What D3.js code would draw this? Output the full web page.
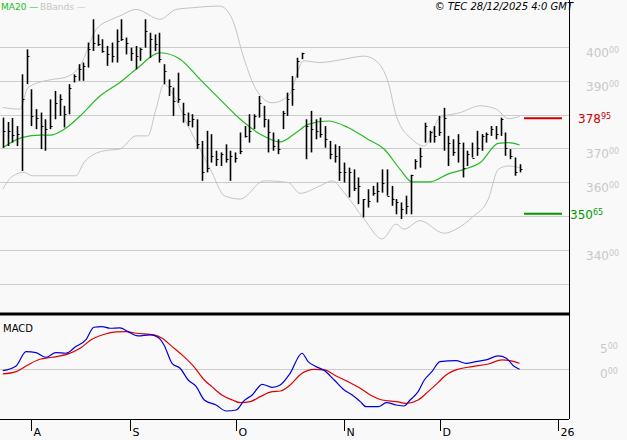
<!DOCTYPE html>
<html>
<head>
<meta charset="utf-8">
<script src="https://cdn.jsdelivr.net/npm/d3@7"></script>
<style>
  body { margin: 0; background: #f9f9f9; }
  svg { display: block; font-family: "DejaVu Sans", Arial, sans-serif; }
</style>
</head>
<body>
<svg id="chart" width="627" height="440"></svg>
<script>
// daily bars, high / low / close
var highs = [379.1,377.8,379,376.6,391.9,399.3,387.5,381.6,380.6,378.6,384.5,387,386,382.6,389,391.9,394.9,395.4,401.3,408.2,403.7,402.3,400.3,401.3,405.2,408.2,402.8,399.8,400.3,399.8,408.2,404.2,403.7,404.2,394.9,390.4,388,392.4,383.5,380.6,380.1,378.6,372.2,375.2,374.2,369.3,368.8,371.2,369.3,368.8,374.7,376.6,380.1,380.1,385.5,382.6,378.6,374.7,372.7,381.1,386.5,391.4,396.8,398.3,378.6,381.1,378.6,379.1,376.6,372.2,371.2,370.7,365.8,364.3,363.8,361.4,355,357.9,358.9,359.9,363.8,363.8,358.9,355,354,356,362.2,366.8,370.2,377.6,375.2,376.6,379.6,382,373.7,372.7,374.2,371.7,369.3,371.7,375.2,374.2,374.7,376.6,376.6,379.1,374.7,369.8,367.3,365.3];
var lows = [370.2,370.7,371.7,370.7,363.3,389,376.6,375.7,369.8,369.3,375.7,378.6,379.6,376.2,380.1,389.5,390,390,393.9,398.8,400.3,398.3,394.4,395.4,395.4,401.8,397.8,395.9,393.4,395.9,399.8,396.8,398.8,395.4,389,385.5,379.6,383.5,377.6,376.6,376.2,369.8,360.4,362.9,365.8,364.8,364.8,365.8,360.4,365.8,368.3,373.2,371.7,375.7,379.1,376.2,368.8,369.3,368.3,375.7,379.6,382.6,390.9,396.4,366.8,368.8,372.7,373.2,370.2,366.8,365.8,360.4,359.9,355.5,357.4,353.5,349.6,352.5,356,354,356.9,356,353,350.5,349.1,350.5,350.5,363.8,364.3,371.7,371.7,371.7,373.7,369.3,364.8,367.8,365.8,361.4,364.8,367.3,367.8,369.3,371.7,373.7,372.7,373.7,367.8,366.8,361.9,362.9];
var closes = [375,375.2,374,374.2,384.5,397.3,379.6,379,376.6,375.7,376.6,383.5,384.5,380.1,388,391.4,393.4,394.4,399.3,401.3,400.8,398.8,397.8,397.3,401.8,402.3,401.3,398.3,397.3,399.3,404.7,402.3,400.8,396.4,392.9,388.5,384,384.5,380.1,378.1,378.6,371.2,362.9,364.3,367.8,366.8,368.3,366.8,367.8,367.3,369.3,373.7,375.2,379.6,383.5,378.6,374.7,370.7,369.8,380.6,384.5,387.5,395.9,398.3,376.6,375.7,375.2,374.2,372.7,368.3,367.8,362.9,362.9,362.9,358.4,358.9,355,354.5,356.9,357.4,359.9,356,355,354,352,353,362,366.3,367.8,376.6,374.7,373.7,374.7,379.1,371.7,368.8,371.7,364.3,368.3,367.3,370.2,373.7,374.2,375.7,374.2,378.6,370.2,367.8,362.9,363.8];

// indicator lines: [bar index, value]
var ma20 = [[0,370.2],[4,373.2],[8,373.9],[10,373.9],[13,375.7],[16.3,379.6],[20.5,385.5],[24.7,389.5],[28.1,393.4],[33.2,398.3],[37.4,396.4],[41.6,390.4],[45.8,384.5],[50.1,378.6],[54.3,374.2],[58.5,371.9],[61.9,374.7],[64.4,377.1],[68.6,378.1],[72.8,376.2],[77,372.7],[80.4,369.8],[83.8,363.8],[86.3,360.1],[90.1,360.1],[93.9,362.4],[97.3,363.8],[100.7,365.8],[104.5,371.5],[106.6,371.7],[109,371]];
var bbUpper = [[0,382.1],[3.6,381.6],[5.3,388],[10.4,390.4],[12.9,390.9],[16.3,394.4],[19.7,405.2],[23,408.2],[24.7,409.2],[28.1,411.1],[33.2,408.2],[36.5,411.1],[39.9,411.6],[45.8,412.1],[48.4,408.2],[50.9,396.4],[53.4,387.5],[56.8,383.5],[60.2,385.5],[63.5,395.9],[66.9,395.4],[72,396.4],[76.2,397.3],[78.7,395.9],[81.3,389.5],[83,379.6],[86.3,372.7],[88.9,370.7],[92.2,379.1],[96.5,380.6],[100.7,382.6],[104.1,381.6],[106.6,378.8],[109,379.4]];
var bbLower = [[0,357.9],[2,361.7],[4.5,362.9],[6.2,361.9],[15.4,361.9],[17.1,365.8],[21.4,369.3],[24.7,369.8],[28.1,373.7],[30.6,373.7],[32.3,381.6],[34,389],[36.5,384.5],[39.1,376.6],[41.6,369.8],[44.1,362.9],[46.7,356],[50.1,355],[55.1,360.4],[60.2,359.9],[62.7,356.7],[66.9,358.9],[69.5,360.4],[72,356.9],[76.2,349.1],[80,343.2],[83,347.6],[84.6,346.1],[88,348.6],[93.1,344.9],[95.6,346.1],[99,349.6],[102.4,355],[104.5,363.8],[106.6,364.8],[109,364.3]];
var macdLine = [[0,-0.26],[2.8,0.66],[4.9,3.49],[7,3.29],[9.1,2.37],[11.2,3.29],[13.3,3.16],[15.4,4.47],[17.6,5.92],[19.2,8.29],[20.9,8.42],[22.6,8.09],[24.7,8.16],[26.4,7.43],[28.5,6.58],[31.1,6.78],[32.7,6.32],[34,4.8],[35.7,1.18],[37.4,0.2],[39.1,-2.11],[40.8,-3.42],[42.5,-6.05],[45,-7.04],[47.1,-8.22],[49.2,-8.03],[50.9,-6.18],[52.6,-5.07],[54.7,-2.96],[56.8,-3.55],[58.5,-3.09],[60.6,-0.79],[63.1,3.16],[64.4,1.51],[66.1,0.53],[67.8,-0.26],[69.9,-2.11],[72,-4.08],[73.7,-5.07],[75.4,-6.38],[76.6,-7.37],[79.2,-7.37],[80.9,-6.58],[83,-7.04],[84.6,-7.24],[85.9,-6.05],[87.6,-4.41],[88.9,-2.11],[90.5,-0.46],[92.2,1.51],[95.6,1.71],[97.7,1.18],[99.8,1.51],[101.9,1.84],[104.5,2.63],[106.2,2.17],[107.9,0.53],[109,0]];
var signalLine = [[0,-0.92],[2.8,-0.46],[5.3,0.86],[7.8,1.97],[10.4,2.37],[13.8,3.03],[16.3,4.14],[18.8,5.92],[21.4,6.91],[23.9,7.37],[26,7.43],[28.1,7.11],[31.9,6.78],[33.6,6.12],[35.7,4.47],[38.2,2.5],[40.3,0.53],[42.5,-2.11],[44.1,-3.42],[46.2,-5.07],[48.4,-6.05],[50.1,-6.58],[52.2,-6.38],[54.3,-5.39],[56.8,-4.41],[58.5,-4.28],[60.6,-3.09],[63.1,-0.79],[65.7,0],[67.8,-0.13],[70.3,-1.32],[72.8,-2.43],[75.4,-3.75],[77.5,-5.07],[80,-6.05],[83,-6.38],[85.1,-6.71],[87.6,-6.05],[89.7,-4.41],[91.8,-2.63],[93.5,-1.12],[96,0],[99,0.53],[102.4,1.05],[105.3,1.84],[107.9,1.51],[109,1.18]];

var priceTicks = [330,340,350,360,370,380,390,400];
var priceLabels = [340,360,370,390,400];   // 350 and 380 sit under the support/resistance tags
var macdTicks = [0,5];
var monthTicks = [[5.95,"A"],[26.8,"S"],[49.2,"O"],[72,"N"],[92.2,"D"],[117,"26"]];
var resistance = 378.95, support = 350.65;

var svg = d3.select("#chart");
var plotRight = 569, priceBottom = 314, macdTop = 314, macdBottom = 419;

var x = d3.scaleLinear().domain([0, 109]).range([2.8, 519.6]);
var y = d3.scaleLinear().domain([321, 413.9]).range([priceBottom, 0]);
var ym = d3.scaleLinear().domain([-9.8, 10.9]).range([macdBottom, macdTop]);

function splitLabel(g, big, small, color, xx, yy) {
    var t = g.append("text").attr("x", xx).attr("y", yy).attr("fill", color)
        .style("font-size", "12px");
    t.append("tspan").text(big);
    t.append("tspan").attr("dy", -4).style("font-size", "8px").text(small);
}

// price grid + labels
priceTicks.forEach(function(v) {
    svg.append("line").attr("x1", 0).attr("x2", plotRight)
        .attr("y1", Math.round(y(v)) + 0.5).attr("y2", Math.round(y(v)) + 0.5)
        .attr("stroke", "#cccccc");
});
priceLabels.forEach(function(v) {
    splitLabel(svg, String(v), "00", "#c8c8c8", 586, y(v) + 10);
});

// bollinger + ma
var line = d3.line().x(function(d) { return x(d[0]); }).y(function(d) { return y(d[1]); })
    .curve(d3.curveMonotoneX);
svg.append("path").attr("d", line(bbUpper)).attr("fill", "none").attr("stroke", "#c4c4c4");
svg.append("path").attr("d", line(bbLower)).attr("fill", "none").attr("stroke", "#c4c4c4");
svg.append("path").attr("d", line(ma20)).attr("fill", "none").attr("stroke", "#22bb22").attr("stroke-width", 1.2);

// bars
var bars = svg.append("g");
closes.forEach(function(c, i) {
    var bx = Math.round(x(i)) + 0.5;
    bars.append("line").attr("x1", bx).attr("x2", bx)
        .attr("y1", y(highs[i])).attr("y2", y(lows[i]))
        .attr("stroke", "#000").attr("stroke-width", 1.6);
    bars.append("line").attr("x1", bx).attr("x2", bx + 2)
        .attr("y1", Math.round(y(c)) + 0.5).attr("y2", Math.round(y(c)) + 0.5)
        .attr("stroke", "#000");
});

// support / resistance
svg.append("line").attr("x1", 524).attr("x2", 562).attr("y1", y(resistance)).attr("y2", y(resistance))
    .attr("stroke", "#cc0000").attr("stroke-width", 2);
svg.append("line").attr("x1", 524).attr("x2", 562).attr("y1", y(support)).attr("y2", y(support))
    .attr("stroke", "#009900").attr("stroke-width", 2);
splitLabel(svg, "378", "95", "#cc0000", 578, y(resistance) + 5);
splitLabel(svg, "350", "65", "#009900", 570, y(support) + 5);

// macd panel
svg.append("line").attr("x1", 0).attr("x2", plotRight)
    .attr("y1", Math.round(ym(0)) + 0.5).attr("y2", Math.round(ym(0)) + 0.5).attr("stroke", "#cccccc");
macdTicks.forEach(function(v) {
    splitLabel(svg, String(v), "00", "#c8c8c8", 600, ym(v) + 9);
});
var mline = d3.line().x(function(d) { return x(d[0]); }).y(function(d) { return ym(d[1]); })
    .curve(d3.curveMonotoneX);
svg.append("path").attr("d", mline(signalLine)).attr("fill", "none").attr("stroke", "#dd0000").attr("stroke-width", 1.2);
svg.append("path").attr("d", mline(macdLine)).attr("fill", "none").attr("stroke", "#0000dd").attr("stroke-width", 1.2);
svg.append("text").attr("x", 3).attr("y", 332).style("font-size", "10px").text("MACD");

// frame
svg.append("line").attr("x1", 0).attr("x2", plotRight).attr("y1", macdTop).attr("y2", macdTop)
    .attr("stroke", "#000").attr("stroke-width", 3);
svg.append("line").attr("x1", 0).attr("x2", plotRight).attr("y1", macdBottom + 0.5).attr("y2", macdBottom + 0.5)
    .attr("stroke", "#000");
svg.append("line").attr("x1", plotRight + 0.5).attr("x2", plotRight + 0.5).attr("y1", 0).attr("y2", macdBottom)
    .attr("stroke", "#000");

// month axis
monthTicks.forEach(function(t) {
    var tx = Math.round(x(t[0])) + 0.5;
    svg.append("line").attr("x1", tx).attr("x2", tx).attr("y1", macdBottom).attr("y2", 431).attr("stroke", "#000");
    svg.append("text").attr("x", tx + 2).attr("y", 436).style("font-size", "11px").text(t[1]);
});

// header
svg.append("text").attr("x", 1).attr("y", 10).attr("fill", "#22bb22").style("font-size", "9px").text("MA20 —");
svg.append("text").attr("x", 40).attr("y", 10).attr("fill", "#c4c4c4").style("font-size", "9px").text("BBands —");
svg.append("text").attr("x", 573).attr("y", 10).attr("text-anchor", "end").style("font-size", "10px")
    .style("font-style", "italic").text("© TEC 28/12/2025 4:0 GMT");
</script>
</body>
</html>
